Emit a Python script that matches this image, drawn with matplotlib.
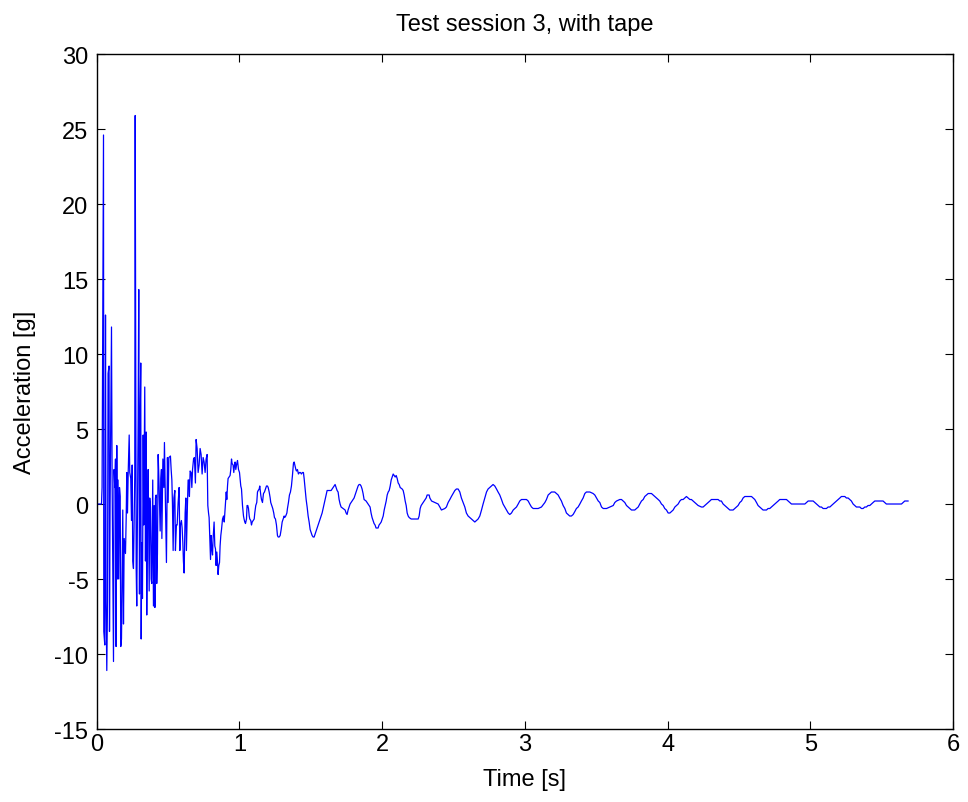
import matplotlib
matplotlib.use("Agg")
import matplotlib.pyplot as plt

# Time [s] and acceleration [g]
time_s = [
    0.000, 0.033, 0.037, 0.047, 0.049, 0.056, 0.061, 0.065, 0.070, 0.075,
    0.079, 0.086, 0.089, 0.093, 0.103, 0.107, 0.117, 0.121, 0.126, 0.131,
    0.135, 0.140, 0.145, 0.149, 0.154, 0.159, 0.164, 0.168, 0.173, 0.182,
    0.187, 0.192, 0.201, 0.206, 0.210, 0.215, 0.220, 0.227, 0.231, 0.238,
    0.243, 0.248, 0.252, 0.257, 0.262, 0.266, 0.269, 0.276, 0.280, 0.285,
    0.290, 0.294, 0.299, 0.304, 0.308, 0.311, 0.315, 0.320, 0.325, 0.329,
    0.336, 0.341, 0.346, 0.350, 0.355, 0.360, 0.367, 0.371, 0.376, 0.381,
    0.385, 0.392, 0.397, 0.402,
    0.407, 0.411, 0.416, 0.420, 0.425, 0.430, 0.437, 0.444, 0.449, 0.453,
    0.456, 0.463, 0.470, 0.474, 0.481, 0.488, 0.495, 0.500, 0.505, 0.516,
    0.521, 0.526, 0.530, 0.535, 0.540, 0.547, 0.551, 0.558, 0.563, 0.570,
    0.577, 0.582, 0.586, 0.593, 0.598, 0.603, 0.607, 0.612, 0.619, 0.624,
    0.628, 0.635, 0.640, 0.645, 0.649, 0.654, 0.661, 0.666, 0.671, 0.678,
    0.684, 0.691, 0.696, 0.703, 0.710, 0.717, 0.724, 0.731, 0.738, 0.745,
    0.752, 0.759, 0.766, 0.773, 0.778, 0.783, 0.787,
    0.794, 0.797, 0.801, 0.806, 0.811, 0.815, 0.822, 0.827, 0.832, 0.836,
    0.841, 0.846, 0.850, 0.855, 0.860, 0.864, 0.869, 0.874, 0.881, 0.888,
    0.893, 0.897, 0.902, 0.907, 0.911, 0.916, 0.920, 0.927, 0.934, 0.939,
    0.944, 0.948, 0.955, 0.960, 0.965, 0.969, 0.974, 0.981, 0.986, 0.993,
    1.000, 1.004, 1.009, 1.014, 1.021, 1.028, 1.032, 1.037, 1.042, 1.049,
    1.053, 1.058, 1.063, 1.068, 1.072, 1.079, 1.084, 1.089, 1.096, 1.103,
    1.107, 1.114, 1.121, 1.126, 1.131, 1.138, 1.142, 1.149, 1.154, 1.161,
    1.168, 1.175, 1.182, 1.189, 1.196, 1.201, 1.208, 1.215, 1.219, 1.226,
    1.233, 1.240, 1.245, 1.252, 1.259, 1.266, 1.271, 1.278, 1.285, 1.292,
    1.299, 1.306, 1.313, 1.317, 1.324, 1.332, 1.336, 1.343, 1.350, 1.357,
    1.364, 1.371, 1.378, 1.383,
    1.388, 1.395, 1.399, 1.406, 1.413, 1.420, 1.427, 1.434, 1.441, 1.448,
    1.453, 1.460, 1.467, 1.474, 1.481, 1.488, 1.495, 1.502, 1.509, 1.516,
    1.523, 1.530, 1.537, 1.544, 1.551, 1.558, 1.565, 1.572, 1.579, 1.586,
    1.593, 1.600, 1.607, 1.614, 1.628, 1.642, 1.649, 1.656, 1.663, 1.670,
    1.677, 1.684, 1.691, 1.698, 1.705, 1.712, 1.726, 1.740, 1.747, 1.754,
    1.761, 1.768, 1.775, 1.782, 1.789, 1.796, 1.803, 1.810, 1.817, 1.824,
    1.831, 1.838, 1.845, 1.852, 1.859, 1.866, 1.873, 1.887, 1.901, 1.915,
    1.922, 1.929, 1.936, 1.943, 1.950, 1.957, 1.971, 1.978, 1.986, 1.993,
    2.000, 2.007, 2.014, 2.021, 2.028, 2.035, 2.042, 2.049, 2.056, 2.063,
    2.070, 2.077, 2.084, 2.091, 2.098, 2.105, 2.112, 2.119, 2.126, 2.140,
    2.147, 2.154, 2.161, 2.168, 2.175, 2.182, 2.189, 2.203, 2.245, 2.252,
    2.259, 2.266, 2.273, 2.280, 2.287, 2.294, 2.301, 2.308, 2.315, 2.329,
    2.334, 2.346, 2.369, 2.392, 2.404, 2.415, 2.439, 2.450, 2.462, 2.474,
    2.485, 2.497, 2.509, 2.520, 2.532, 2.544, 2.555, 2.567, 2.579, 2.590,
    2.602, 2.614, 2.626, 2.637, 2.649, 2.661, 2.672, 2.684, 2.696, 2.707,
    2.719, 2.731, 2.742, 2.754, 2.766, 2.777, 2.789, 2.801, 2.812, 2.824,
    2.836, 2.847, 2.859, 2.871, 2.883, 2.894, 2.906, 2.918, 2.929, 2.941,
    2.953, 2.964, 2.976, 2.988, 3.011, 3.023, 3.034, 3.046, 3.058, 3.069,
    3.093, 3.116, 3.140, 3.151, 3.163, 3.174, 3.186, 3.209, 3.221, 3.233,
    3.244, 3.256, 3.268, 3.280, 3.291, 3.303, 3.314, 3.326, 3.338, 3.350,
    3.361, 3.373, 3.385, 3.396, 3.408, 3.420, 3.431, 3.455, 3.478, 3.490,
    3.502, 3.514, 3.525, 3.537, 3.549, 3.560, 3.572, 3.595, 3.619, 3.630,
    3.642, 3.665,
    3.677, 3.688, 3.700, 3.712, 3.724, 3.735, 3.747, 3.759, 3.770, 3.782,
    3.794, 3.805, 3.817, 3.829, 3.840, 3.852, 3.864, 3.875, 3.887, 3.899,
    3.910, 3.922, 3.934, 3.945, 3.957, 3.969, 3.980, 3.992, 4.004, 4.016,
    4.027, 4.039, 4.051, 4.062, 4.074, 4.086, 4.097, 4.109, 4.121, 4.132,
    4.144, 4.156, 4.167, 4.179, 4.191, 4.202, 4.214, 4.237, 4.249, 4.261,
    4.272, 4.284, 4.296, 4.307, 4.354, 4.366, 4.377, 4.389, 4.401, 4.413,
    4.424, 4.436, 4.448, 4.459, 4.471, 4.483, 4.494, 4.506, 4.518, 4.529,
    4.541, 4.553, 4.588, 4.599, 4.611, 4.623, 4.634, 4.646, 4.658, 4.669,
    4.681, 4.693, 4.704, 4.716, 4.728, 4.739, 4.751, 4.763, 4.775, 4.786,
    4.798, 4.810, 4.821, 4.833, 4.845, 4.856, 4.868, 4.880, 4.950, 4.962,
    4.973, 4.985, 4.997, 5.008, 5.020, 5.032, 5.043, 5.055, 5.067, 5.078,
    5.090, 5.113, 5.125, 5.137, 5.148, 5.160, 5.172, 5.183, 5.195, 5.207,
    5.218, 5.230, 5.242, 5.253, 5.265, 5.277, 5.288, 5.300, 5.312, 5.323,
    5.335, 5.347, 5.358, 5.370, 5.382, 5.393, 5.405, 5.417, 5.428, 5.440,
    5.452, 5.463, 5.498, 5.510, 5.522, 5.533, 5.545, 5.627, 5.639, 5.650,
    5.662, 5.674, 5.685,
]

accel_g = [
    0.0, 0.0, 1.1, 24.6, -8.5, -9.4, 12.6, -6.5, -11.1, -6.5,
    8.7, 9.2, -8.5, -0.1, 11.8, 2.1, -10.5, 2.3, 1.1, 3.0,
    -9.5, 3.9, -5.0, 1.6, -5.0, 1.1, 0.5, -9.5, -9.0, -0.4,
    -8.0, -2.3, -3.3, -0.9, 2.1, -0.6, 2.1, 4.6, 2.1, 1.7,
    -1.1, 2.6, -3.8, -4.3, -1.1, 1.8, 25.9, -4.3, -6.8, -0.9,
    5.8, 14.3, -6.0, 5.8, 9.4, -9.0, -2.6, -6.3, 4.6, -1.4,
    7.8, -3.8, 4.8, -7.4, -1.1, 2.3, -5.8, 0.4, -0.2, -5.0,
    -5.3, 1.6, -6.8, -0.1,
    -6.9, 0.4, 0.6, -5.3, -3.3, 3.3, 1.1, -1.8, 1.7, 2.3,
    -2.3, 3.0, 1.1, 4.1, -0.1, -3.9, 3.1, 0.1, 3.1, 3.2,
    2.3, 1.6, 0.1, -3.1, 0.4, 0.9, -3.1, -1.4, -1.4, 0.1,
    1.1, -3.1, -1.4, -1.1, -1.6, -2.6, -3.8, -4.6, -0.6, 0.4,
    -3.1, -0.1, 1.6, 1.6, 0.5, 2.2, 2.1, 1.1, 2.3, 3.0,
    3.1, 1.4, 4.3, 3.7, 2.1, 2.6, 3.7, 3.3, 2.0, 3.1,
    2.8, 2.1, 3.0, 3.3, -0.1, -0.6, -0.9,
    -2.8, -3.7, -2.1, -3.0, -3.4, -2.3, -1.2, -2.8, -3.0, -4.1,
    -3.2, -3.9, -4.7, -4.1, -3.9, -2.8, -2.1, -1.7, -1.0, -0.8,
    -1.2, -0.6, 0.1, 0.8, 0.3, 1.2, 1.7, 1.8, 1.9, 2.3,
    3.0, 2.7, 2.6, 2.1, 2.6, 2.8, 2.3, 2.7, 2.9, 2.3,
    2.1, 1.7, 1.2, 1.0, -0.1, -0.8, -1.0, -1.2, -1.3, -1.0,
    -0.1, -0.1, -0.3, -0.8, -1.0, -1.1, -1.4, -1.2, -1.1, -1.0,
    -0.6, -0.1, 0.1, 0.8, 0.9, 1.0, 1.2, 0.6, 0.3, 0.1,
    0.7, 0.8, 1.0, 1.2, 1.2, 1.1, 0.8, 0.4, 0.1, -0.1,
    -0.3, -0.6, -0.9, -1.0, -1.4, -2.1, -2.2, -2.2, -2.1, -1.7,
    -1.2, -1.0, -0.8, -0.9, -0.8, -0.6, -0.3, 0.1, 0.6, 0.8,
    1.2, 1.9, 2.7, 2.8,
    2.6, 2.3, 2.2, 2.3, 2.0, 2.1, 2.1, 2.0, 2.1, 2.1,
    1.7, 1.0, 0.3, -0.2, -0.8, -1.2, -1.7, -1.9, -2.1, -2.2,
    -2.2, -2.0, -1.8, -1.6, -1.4, -1.2, -1.0, -0.8, -0.6, -0.3,
    0.0, 0.3, 0.6, 0.9, 0.9, 0.9, 1.0, 1.1, 1.2, 1.3,
    1.1, 0.9, 0.8, 0.3, 0.0, -0.2, -0.3, -0.4, -0.6, -0.7,
    -0.4, -0.2, 0.0, 0.1, 0.2, 0.3, 0.4, 0.6, 0.8, 1.0,
    1.2, 1.3, 1.3, 1.2, 1.0, 0.7, 0.3, 0.2, 0.0, -0.2,
    -0.6, -0.9, -1.1, -1.3, -1.4, -1.6, -1.6, -1.4, -1.3, -1.2,
    -1.0, -0.8, -0.4, -0.1, 0.2, 0.6, 0.8, 0.9, 1.2, 1.6,
    1.8, 2.0, 1.9, 1.8, 1.9, 1.7, 1.4, 1.3, 1.1, 1.0,
    0.9, 0.6, 0.2, -0.1, -0.6, -0.8, -0.9, -1.0, -1.0, -1.0,
    -0.8, -0.3, -0.1, 0.0, 0.1, 0.2, 0.3, 0.4, 0.6, 0.6,
    0.4, 0.2, 0.1, 0.0, -0.2, -0.4, -0.3, -0.2, 0.1, 0.3,
    0.5, 0.7, 0.9, 1.0, 1.0, 0.8, 0.4, 0.1, -0.2, -0.6,
    -0.8, -0.9, -1.0, -1.1, -1.2, -1.1, -1.0, -0.8, -0.4, 0.0,
    0.4, 0.8, 1.0, 1.1, 1.2, 1.3, 1.2, 1.0, 0.8, 0.6,
    0.3, 0.0, -0.2, -0.4, -0.6, -0.7, -0.6, -0.4, -0.3, -0.2,
    0.0, 0.2, 0.3, 0.3, 0.3, 0.2, 0.0, -0.2, -0.3, -0.3,
    -0.3, -0.2, 0.1, 0.3, 0.6, 0.7, 0.8, 0.8, 0.7, 0.6,
    0.4, 0.2, -0.1, -0.3, -0.6, -0.7, -0.8, -0.8, -0.7, -0.5,
    -0.3, -0.2, 0.0, 0.2, 0.4, 0.7, 0.8, 0.8, 0.7, 0.6,
    0.4, 0.2, 0.1, -0.2, -0.3, -0.3, -0.3, -0.2, -0.1, 0.1,
    0.2, 0.3,
    0.3, 0.2, 0.1, -0.1, -0.2, -0.3, -0.4, -0.4, -0.4, -0.3,
    -0.2, 0.0, 0.2, 0.3, 0.5, 0.6, 0.7, 0.7, 0.7, 0.6,
    0.5, 0.4, 0.3, 0.2, 0.0, -0.1, -0.3, -0.4, -0.6, -0.6,
    -0.5, -0.4, -0.2, -0.1, 0.0, 0.2, 0.3, 0.3, 0.4, 0.5,
    0.4, 0.3, 0.3, 0.2, 0.1, 0.0, -0.1, -0.2, -0.2, -0.1,
    0.0, 0.1, 0.2, 0.3, 0.3, 0.2, 0.2, 0.0, -0.1, -0.2,
    -0.3, -0.4, -0.4, -0.4, -0.3, -0.2, -0.1, 0.1, 0.2, 0.4,
    0.5, 0.5, 0.5, 0.4, 0.3, 0.1, -0.1, -0.2, -0.3, -0.4,
    -0.4, -0.4, -0.3, -0.3, -0.2, -0.1, 0.0, 0.1, 0.2, 0.3,
    0.3, 0.3, 0.3, 0.3, 0.2, 0.1, 0.0, 0.0, 0.0, 0.0,
    0.1, 0.2, 0.2, 0.2, 0.2, 0.1, 0.0, -0.1, -0.2, -0.2,
    -0.3, -0.3, -0.2, -0.2, -0.1, 0.0, 0.1, 0.2, 0.3, 0.4,
    0.5, 0.5, 0.5, 0.4, 0.4, 0.3, 0.2, 0.0, -0.1, -0.2,
    -0.2, -0.2, -0.3, -0.3, -0.2, -0.2, -0.1, -0.1, 0.0, 0.1,
    0.2, 0.2, 0.2, 0.2, 0.1, 0.0, 0.0, 0.0, 0.0, 0.1,
    0.2, 0.2, 0.2,
]

x_ticks = [0, 1, 2, 3, 4, 5, 6]
y_ticks = [-15, -10, -5, 0, 5, 10, 15, 20, 25, 30]

plt.rcParams['font.family'] = ['Liberation Sans', 'DejaVu Sans']
plt.rcParams['axes.unicode_minus'] = False

fig = plt.figure(figsize=(9.68, 8.03), dpi=100)
ax = fig.add_axes([0.100, 0.0909, 0.8845, 0.8406])
ax.plot(time_s, accel_g, color=(0, 0, 1), linewidth=0.9)

ax.set_xlim(0, 6)
ax.set_ylim(-15, 30)
ax.set_xticks(x_ticks)
ax.set_yticks(y_ticks)
ax.tick_params(direction='in', length=6, width=0.8, top=True, right=True,
               labelsize=17)
ax.tick_params(axis='y', pad=6)
ax.tick_params(axis='x', pad=3)
for s in ax.spines.values():
    s.set_linewidth(1.0)
    s.set_color('black')

ax.set_title('Test session 3, with tape', fontsize=17, pad=17)
ax.set_xlabel('Time [s]', fontsize=17, labelpad=9)
ax.set_ylabel('Acceleration [g]', fontsize=17, labelpad=13)

fig.savefig('out.png', dpi=100, facecolor='white')
